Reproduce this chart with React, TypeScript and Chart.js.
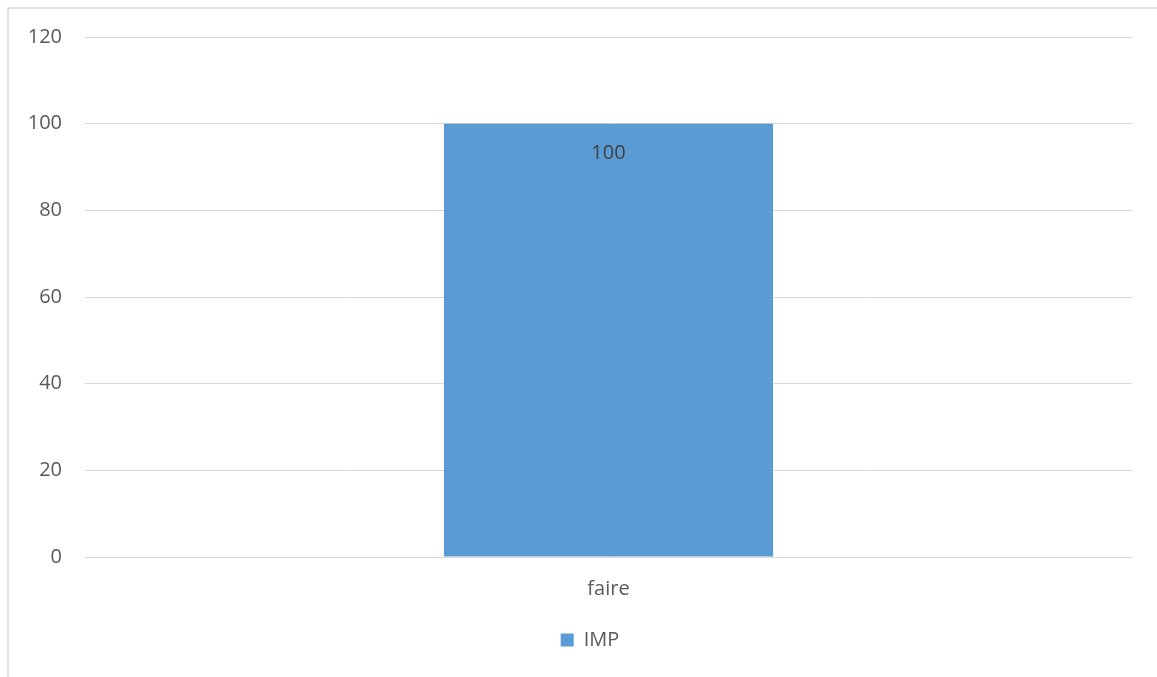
import { useEffect, useRef } from "react";
import { Chart, registerables } from "chart.js";

Chart.register(...registerables);

const categories = ["faire"];
const seriesName = "IMP";
const impValues = [100];
const yMin = 0;
const yMax = 120;
const yStep = 20;

const FONT = "'Open Sans', 'Liberation Sans', sans-serif";

const framePlugin = {
  id: "frame",
  beforeDraw(chart: any) {
    const ctx = chart.ctx;
    ctx.save();
    ctx.fillStyle = "#ffffff";
    ctx.fillRect(0, 0, chart.width, chart.height);
    ctx.strokeStyle = "#d9d9d9";
    ctx.lineWidth = 1.5;
    ctx.beginPath();
    ctx.moveTo(8, chart.height);
    ctx.lineTo(8, 8);
    ctx.lineTo(chart.width, 8);
    ctx.stroke();
    ctx.restore();
  },
};

// Excel centres the legend slightly right of the plot centre
const legendShiftPlugin = {
  id: "legendShift",
  afterLayout(chart: any) {
    const lg = chart.legend;
    if (lg) {
      lg.left += 24;
      lg.right += 24;
    }
  },
};

const valueLabelPlugin = {
  id: "valueLabels",
  afterDatasetsDraw(chart: any) {
    const ctx = chart.ctx;
    ctx.save();
    ctx.font = `20px ${FONT}`;
    ctx.fillStyle = "#404040";
    ctx.textAlign = "center";
    ctx.textBaseline = "middle";
    chart.data.datasets.forEach((ds: any, di: number) => {
      const meta = chart.getDatasetMeta(di);
      meta.data.forEach((bar: any, i: number) => {
        ctx.fillText(String(ds.data[i]), bar.x, bar.y + 30);
      });
    });
    ctx.restore();
  },
};

export default function App() {
  const ref = useRef<HTMLCanvasElement | null>(null);

  useEffect(() => {
    if (!ref.current) return;
    const chart = new Chart(ref.current, {
      type: "bar",
      data: {
        labels: categories,
        datasets: [
          {
            label: seriesName,
            data: impValues,
            backgroundColor: "#5B9BD5",
            borderWidth: 0,
            barPercentage: 0.3143,
            categoryPercentage: 1,
          },
        ],
      },
      options: {
        animation: false,
        responsive: false,
        maintainAspectRatio: false,
        layout: { padding: { left: 0, right: 25, top: 37, bottom: 17 } },
        plugins: {
          legend: {
            display: true,
            position: "bottom",
            labels: {
              boxWidth: 13,
              boxHeight: 13,
              color: "#595959",
              font: { family: FONT, size: 20 },
              padding: 10,
            },
          },
          tooltip: { enabled: false },
        },
        scales: {
          x: {
            grid: { display: false, drawTicks: false },
            border: { display: false },
            ticks: {
              color: "#595959",
              font: { family: FONT, size: 20 },
              padding: 20,
            },
            afterFit: (s: any) => {
              s.height = 63;
            },
          },
          y: {
            min: yMin,
            max: yMax,
            ticks: {
              stepSize: yStep,
              color: "#595959",
              font: { family: FONT, size: 20 },
              padding: 23,
            },
            grid: { color: "#d9d9d9", lineWidth: 1, drawTicks: false },
            border: { display: false },
            afterFit: (s: any) => {
              s.width = 85;
            },
          },
        },
      },
      plugins: [framePlugin, legendShiftPlugin, valueLabelPlugin],
    });
    return () => chart.destroy();
  }, []);

  return (
    <div style={{ position: "absolute", left: 0, top: 0, width: 1157, height: 677 }}>
      <canvas ref={ref} width={1157} height={677} style={{ display: "block" }} />
    </div>
  );
}
